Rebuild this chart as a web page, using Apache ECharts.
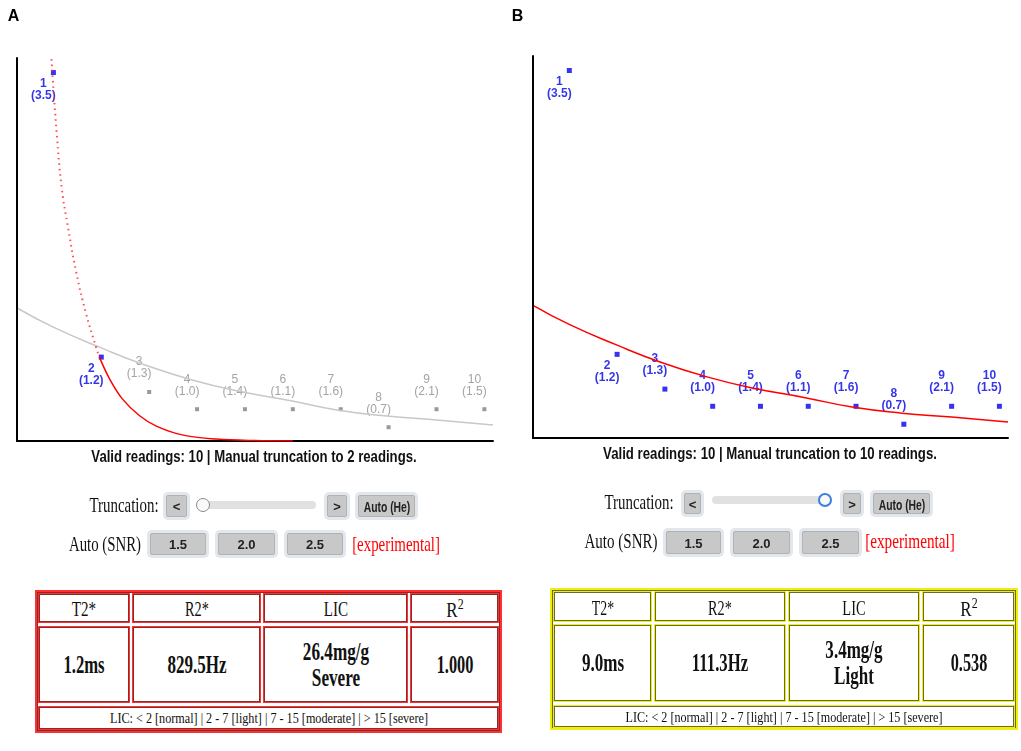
<!DOCTYPE html>
<html>
<head>
<meta charset="utf-8">
<script src="https://cdn.jsdelivr.net/npm/echarts@6/dist/echarts.min.js"></script>
<style>
  body { margin: 0; background: #fff; }
  #wrap { position: relative; width: 1021px; height: 751px; overflow: hidden; }
  #main { position: absolute; left: 0; top: 0; width: 1021px; height: 751px; }
  .t { position: absolute; white-space: nowrap; text-align: center; display: inline-block; }
  .serif { font-family: 'Liberation Serif', 'Times New Roman', serif; color: #111; }
  .sans { font-family: 'Liberation Sans Narrow', 'Liberation Sans', sans-serif; color: #111; }
  .btn { position: absolute; box-sizing: border-box; background: #c8c8c8; border: 1px solid #b2b2b2;
         border-radius: 2px; box-shadow: 0 0 0 3px #e2e7ed; }
  .cell { position: absolute; box-sizing: border-box; background: #fff; }
</style>
</head>
<body>
<div id="wrap">
  <div id="main"></div>
</div>
<script>
// readings (echo index), measured signal and the SNR shown under each reading
const readings = [1, 2, 3, 4, 5, 6, 7, 8, 9, 10];
const signal = [96.2, 21.9, 12.8, 8.3, 8.3, 8.3, 8.3, 3.6, 8.3, 8.3];
const snr = ['3.5', '1.2', '1.3', '1.0', '1.4', '1.1', '1.6', '0.7', '2.1', '1.5'];

// fit curves
const fitTwoDotted = [[0.96, 99.7], [1.08, 78.6], [1.18, 65.5], [1.29, 56.9], [1.48, 43.9], [1.68, 33.4], [1.89, 24.5], [1.96, 21.9]];
const fitTwoSolid = [[1.96, 21.9], [2.17, 16.3], [2.44, 11.0], [2.80, 6.6], [3.15, 3.9], [3.69, 1.6], [4.4, 0.5], [5.2, 0.1], [6.0, 0]];
const fitTen = [[0.26, 34.6], [1.02, 29.6], [2.0, 24.3], [2.9, 19.9], [3.88, 16.0], [4.83, 13.1], [5.96, 10.5], [6.92, 8.1], [7.96, 6.5], [9.0, 5.5], [10.18, 4.2]];

// result tables
const tableHead = ['T2*', 'R2*', 'LIC', 'R<sup style="font-size:70%">2</sup>'];
const resultsA = ['1.2ms', '829.5Hz', '26.4mg/g<br>Severe', '1.000'];
const resultsB = ['9.0ms', '111.3Hz', '3.4mg/g<br>Light', '0.538'];
const licScale = 'LIC: &lt; 2 [normal] | 2 - 7 [light] | 7 - 15 [moderate] | &gt; 15 [severe]';

const wrap = document.getElementById('wrap');

// text centred at (cx, cy), squeezed to width w
function txt(cls, cx, cy, w, content, style) {
  let d = document.createElement('div');
  d.className = 't ' + cls;
  d.innerHTML = content;
  d.style.cssText = 'left:' + cx + 'px;top:' + cy + 'px;' + (style || '');
  wrap.appendChild(d);
  let k = w ? w / d.offsetWidth : 1;
  d.style.transform = 'translate(-50%,-50%) scaleX(' + k + ')';
  return d;
}

function btn(x0, y0, x1, y1, label, w) {
  let b = document.createElement('div');
  b.className = 'btn';
  b.style.cssText = 'left:' + (x0 + 3) + 'px;top:' + (y0 + 3) + 'px;width:' + (x1 - x0 - 6) + 'px;height:' + (y1 - y0 - 6) + 'px;';
  wrap.appendChild(b);
  txt('sans', (x0 + x1) / 2, (y0 + y1) / 2, w || 0, label, 'font-weight:bold;font-size:' + (w ? 15 : 13) + 'px;color:#222;');
}

function box(x0, y0, x1, y1, outer, inner, bw) {
  let c = document.createElement('div');
  c.className = 'cell';
  c.style.cssText = 'left:' + x0 + 'px;top:' + y0 + 'px;width:' + (x1 - x0) + 'px;height:' + (y1 - y0) + 'px;' +
    'border:' + bw + 'px solid ' + outer + ';box-shadow:inset 0 0 0 1px ' + inner + ';';
  wrap.appendChild(c);
}

function table(t, cols, rows, vals, outer, inner, headW, valW, footW) {
  box(t[0], t[1], t[2], t[3], outer, inner, 2);
  for (let i = 0; i < cols.length; i++) {
    box(cols[i][0], rows[0][0], cols[i][1], rows[0][1], outer, inner, 1);
    box(cols[i][0], rows[1][0], cols[i][1], rows[1][1], outer, inner, 1);
    let cx = (cols[i][0] + cols[i][1]) / 2;
    txt('serif', cx, (rows[0][0] + rows[0][1]) / 2 + 1, headW[i], tableHead[i], 'font-size:22px;');
    txt('serif', cx, (rows[1][0] + rows[1][1]) / 2, valW[i], vals[i], 'font-size:26px;font-weight:bold;line-height:26px;');
  }
  box(cols[0][0], rows[2][0], cols[cols.length - 1][1], rows[2][1], outer, inner, 1);
  txt('serif', (cols[0][0] + cols[cols.length - 1][1]) / 2, (rows[2][0] + rows[2][1]) / 2, footW, licScale, 'font-size:15px;');
}

function slider(x0, x1, cy, hx, ring, ringW) {
  let tr = document.createElement('div');
  tr.style.cssText = 'position:absolute;left:' + x0 + 'px;top:' + (cy - 4) + 'px;width:' + (x1 - x0) + 'px;height:8px;background:#e1e1e1;border-radius:4px;';
  wrap.appendChild(tr);
  let h = document.createElement('div');
  h.style.cssText = 'position:absolute;box-sizing:border-box;left:' + (hx - 7) + 'px;top:' + (cy - 7) + 'px;width:14px;height:14px;border-radius:7px;background:#fafafa;border:' + ringW + 'px solid ' + ring + ';';
  wrap.appendChild(h);
}

// panel letters
txt('', 13.5, 16, 0, 'A', 'font-family:Liberation Sans,Arial,sans-serif;font-weight:bold;font-size:16px;');
txt('', 517.5, 16, 0, 'B', 'font-family:Liberation Sans,Arial,sans-serif;font-weight:bold;font-size:16px;');

// panel A controls
txt('sans', 254, 457, 325, 'Valid readings: 10 | Manual truncation to 2 readings.', 'font-weight:bold;font-size:17px;');
txt('serif', 123.5, 505, 69, 'Truncation:', 'font-size:21px;');
btn(163, 492, 190, 520, '&lt;');
slider(197, 316, 505, 203, '#8a8a8a', 1.5);
btn(324, 492, 350, 520, '&gt;');
btn(355, 492, 418, 520, 'Auto (He)', 47);
txt('serif', 105, 544, 72, 'Auto (SNR)', 'font-size:21px;');
btn(147, 530, 209, 558, '1.5');
btn(215, 530, 278, 558, '2.0');
btn(284, 530, 346, 558, '2.5');
txt('serif', 396, 544, 88, '[experimental]', 'font-size:21px;color:#f00;');

// panel B controls
txt('sans', 770, 454, 334, 'Valid readings: 10 | Manual truncation to 10 readings.', 'font-weight:bold;font-size:17px;');
txt('serif', 638.5, 502, 69, 'Truncation:', 'font-size:21px;');
btn(681, 490, 704, 517, '&lt;');
slider(712, 832, 500, 825, '#3d7fe0', 2.5);
btn(840, 490, 864, 517, '&gt;');
btn(870, 490, 933, 517, 'Auto (He)', 47);
txt('serif', 620.5, 541, 73, 'Auto (SNR)', 'font-size:21px;');
btn(663, 528, 724, 557, '1.5');
btn(730, 528, 793, 557, '2.0');
btn(799, 528, 862, 557, '2.5');
txt('serif', 910, 541, 90, '[experimental]', 'font-size:21px;color:#f00;');

// result tables
table([35, 590, 502, 733], [[38, 130], [132, 261], [263, 408], [410, 499]], [[593, 623], [626, 703], [706, 730]],
  resultsA, '#ff3030', '#8a2a2a', [24, 24, 24, 17], [41, 59, 66, 37], 318);
table([550, 588, 1018, 730], [[553, 652], [654, 786], [788, 920], [922, 1015]], [[591, 622], [624, 702], [705, 728]],
  resultsB, '#eeee10', '#6a6a2a', [22, 24, 23, 17], [42, 56, 57, 37], 317);

// chart
function points(from, to) {
  let out = [];
  for (let i = from; i < to; i++) {
    out.push({
      value: [readings[i], signal[i]],
      name: String(readings[i]),
      snr: snr[i],
      label: { position: i < 2 ? 'bottom' : 'top', distance: i < 2 ? 3 : 10 }
    });
  }
  return out;
}

function pointLabel(color, weight) {
  return {
    show: true,
    offset: [-10, 0],
    color: color,
    fontWeight: weight,
    fontSize: 12,
    lineHeight: 12,
    fontFamily: 'Liberation Sans Narrow, Liberation Sans, sans-serif',
    formatter: (p) => p.data.name + '\n(' + p.data.snr + ')'
  };
}

function axis(idx, min, max) {
  return {
    gridIndex: idx, type: 'value', min: min, max: max,
    axisLine: { show: true, onZero: false, lineStyle: { color: '#000', width: 2 } },
    axisTick: { show: false }, axisLabel: { show: false }, splitLine: { show: false }
  };
}

const chart = echarts.init(document.getElementById('main'));
const option = {
  animation: false,
  grid: [
    { left: 17, top: 58, width: 476, height: 383 },
    { left: 533, top: 56, width: 475, height: 382 }
  ],
  xAxis: [axis(0, 0.24, 10.18), axis(1, 0.24, 10.18)],
  yAxis: [axis(0, 0, 100), axis(1, 0, 100)],
  series: [
    { type: 'line', xAxisIndex: 0, yAxisIndex: 0, data: fitTen, smooth: true, symbol: 'none',
      lineStyle: { color: '#c8c8c8', width: 1.5 } },
    { type: 'line', xAxisIndex: 0, yAxisIndex: 0, data: fitTwoDotted, smooth: true, symbol: 'none',
      lineStyle: { color: '#ff3030', width: 2, type: [1.5, 4], opacity: 0.85 } },
    { type: 'line', xAxisIndex: 0, yAxisIndex: 0, data: fitTwoSolid, smooth: 0.35, symbol: 'none',
      lineStyle: { color: '#ff0000', width: 1.5 } },
    { type: 'scatter', xAxisIndex: 0, yAxisIndex: 0, data: points(2, 10), symbol: 'rect', symbolSize: 4,
      itemStyle: { color: '#808080' }, label: pointLabel('#8c8c8c', 'normal') },
    { type: 'scatter', xAxisIndex: 0, yAxisIndex: 0, data: points(0, 2), symbol: 'rect', symbolSize: 5,
      itemStyle: { color: '#0000ee' }, label: pointLabel('#0000e6', 'bold') },

    { type: 'line', xAxisIndex: 1, yAxisIndex: 1, data: fitTen, smooth: true, symbol: 'none',
      lineStyle: { color: '#ff0000', width: 1.5 } },
    { type: 'scatter', xAxisIndex: 1, yAxisIndex: 1, data: points(0, 10), symbol: 'rect', symbolSize: 5,
      itemStyle: { color: '#0000ee' }, label: pointLabel('#0000e6', 'bold') }
  ]
};
chart.setOption(option);
</script>
</body>
</html>
